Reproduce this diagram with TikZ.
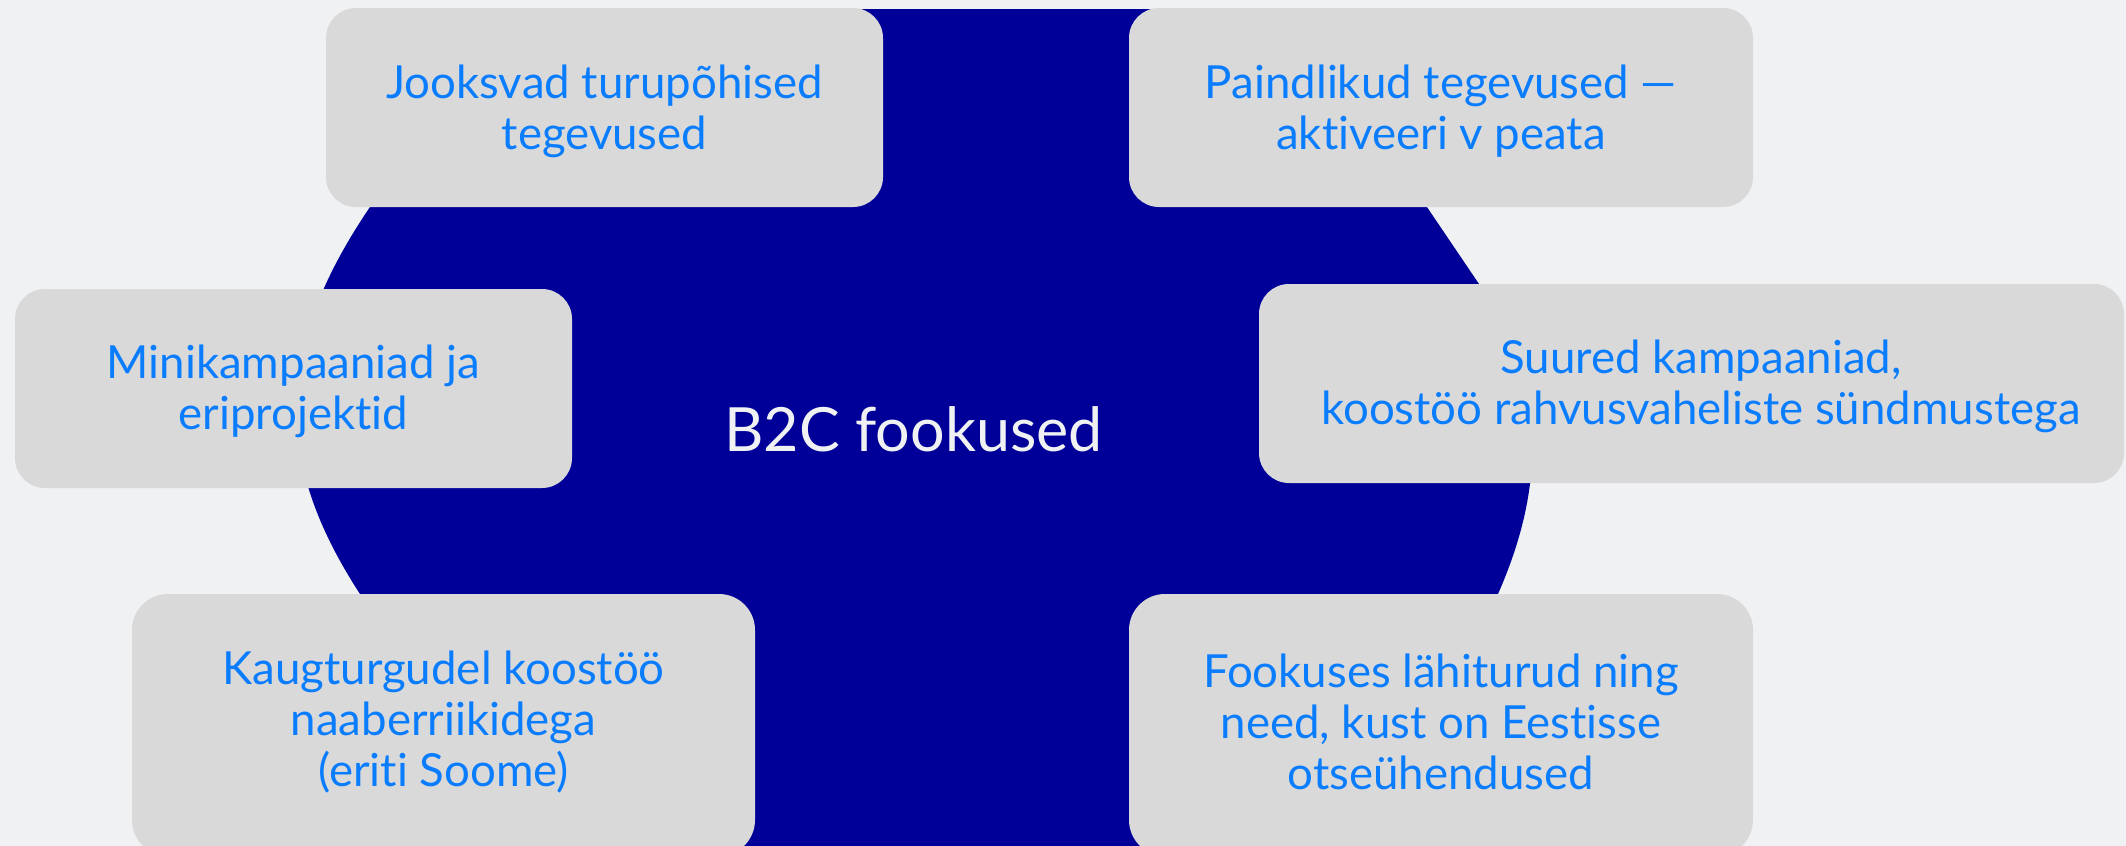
\documentclass[tikz,border=0pt]{standalone}
\usepackage{fontspec}
\setmainfont{Lato}[Ligatures=NoCommon]
\definecolor{bgcol}{RGB}{240,241,243}
\definecolor{boxgray}{RGB}{217,217,217}
\definecolor{deepblue}{RGB}{0,0,153}
\definecolor{txtblue}{RGB}{10,125,255}
\begin{document}
\begin{tikzpicture}[x=0.5pt,y=-0.5pt,
  box/.style={fill=boxgray, draw=none, rounded corners=15pt, inner sep=0pt, outer sep=0pt},
  lowbox/.style={box, rounded corners=18pt},
  boxtext/.style={text=txtblue, align=center, font=\fontsize{22.8}{25.5}\selectfont, inner sep=0pt},
  ctext/.style={text=bgcol, font=\fontsize{30.5}{36}\selectfont, inner sep=0pt}]
\useasboundingbox (0,0) rectangle (2126,846);
\fill[bgcol] (0,0) rectangle (2126,846);
% central blue shape
\fill[deepblue] (500,9) -- (1293,9) -- (1479,284)
  .. controls (1546.5,384) and (1546.4,484) .. (1498,594)
  .. controls (1463,674) and (1420,780) .. (1380,846)
  -- (600,846)
  .. controls (520,790) and (412,674) .. (360,594)
  .. controls (275.5,464) and (271.4,352) .. (370,207)
  .. controls (417.6,137) and (460,60) .. (500,9)
  -- cycle;
% boxes
\node[box, minimum width=278.5pt, minimum height=99.5pt] (b1) at (604.5,107.5) {};
\node[box, minimum width=312pt, minimum height=99.5pt] (b2) at (1441,107.5) {};
\node[box, minimum width=278.5pt, minimum height=99.5pt] (b3) at (293.5,388.5) {};
\node[box, minimum width=432.5pt, minimum height=99.5pt] (b4) at (1691.5,383.5) {};
\node[lowbox, minimum width=311.5pt, minimum height=131pt] (b5) at (443.5,725) {};
\node[lowbox, minimum width=312pt, minimum height=131pt] (b6) at (1441,725) {};
% texts
\node[boxtext] (t1) at (604.5,111) {Jooksvad turupõhised\\tegevused};
\node[boxtext] (t2) at (1441,111) {Paindlikud tegevused —\\aktiveeri v peata};
\node[boxtext] (t3) at (293.5,391.5) {Minikampaaniad ja\\eriprojektid};
\node[boxtext] (t4) at (1701,386.5) {Suured kampaaniad,\\koostöö rahvusvaheliste sündmustega};
\node[boxtext] (t5) at (443.5,722) {Kaugturgudel koostöö\\naaberriikidega\\(eriti Soome)};
\node[boxtext] (t6) at (1441,722) {Fookuses lähiturud ning\\need, kust on Eestisse\\otseühendused};
\node[ctext] (c) at (913.5,429) {B2C fookused};
\end{tikzpicture}
\end{document}
